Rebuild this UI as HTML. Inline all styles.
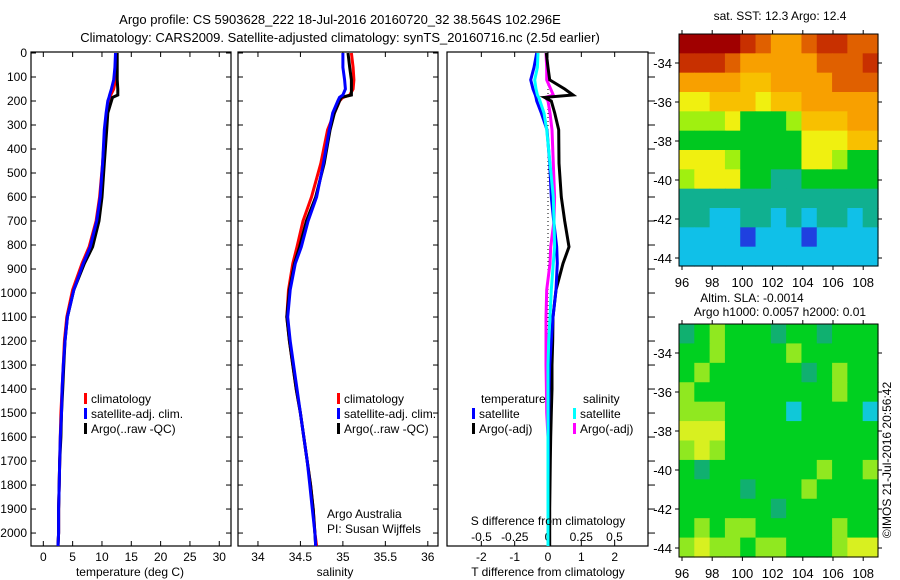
<!DOCTYPE html>
<html><head><meta charset="utf-8">
<style>
html,body{margin:0;padding:0;background:#fff;}
svg{display:block;font-family:"Liberation Sans",sans-serif;}
text{fill:#000;}
</style></head>
<body>
<svg id="fig" width="900" height="580" viewBox="0 0 900 580" xmlns="http://www.w3.org/2000/svg">
<text x="340" y="24" font-size="13" text-anchor="middle">Argo profile: CS 5903628_222 18-Jul-2016 20160720_32 38.564S 102.296E</text>
<text x="340" y="42" font-size="13" text-anchor="middle">Climatology: CARS2009. Satellite-adjusted climatology: synTS_20160716.nc (2.5d earlier)</text>
<g id="plots"></g>
</svg>
<script>
// ---- data ----
const depths = [0,60,112,150,175,185,200,250,320,460,600,700,808,877,987,1100,1200,1300,1400,1500,1600,1700,1800,1900,2000,2054];
const tempClim = [12.5,12.4,12.3,12.0,11.5,11.3,11.1,10.8,10.5,10.1,9.6,9.0,7.8,6.6,5.0,4.0,3.6,3.4,3.2,3.0,2.9,2.8,2.7,2.6,2.6,2.5];
const tempSat = [12.3,12.2,12.0,11.6,11.3,11.2,11.0,10.7,10.4,10.1,9.7,9.1,8.0,6.8,5.2,4.1,3.7,3.4,3.2,3.1,2.9,2.8,2.7,2.6,2.6,2.5];
const tempArgo = [12.6,12.6,12.6,12.7,12.7,11.8,11.6,11.0,10.8,10.4,10.0,9.5,8.4,7.0,5.2,4.1,3.7,3.5,3.3,3.1,3.0,2.8,2.7,2.6,2.6,2.5];
const salClim = [35.1,35.12,35.13,35.12,35.08,35.0,34.96,34.9,34.82,34.74,34.63,34.53,34.46,34.41,34.36,34.34,34.37,34.41,34.45,34.5,34.54,34.58,34.62,34.65,34.67,34.69];
const salSat = [35.0,35.0,35.02,35.03,35.0,34.96,34.94,34.88,34.84,34.77,34.69,34.59,34.51,34.44,34.38,34.35,34.38,34.42,34.46,34.5,34.54,34.58,34.61,34.64,34.67,34.68];
const salArgo = [35.06,35.08,35.1,35.1,35.1,34.98,34.96,34.9,34.85,34.78,34.68,34.57,34.49,34.43,34.37,34.34,34.37,34.41,34.45,34.5,34.54,34.58,34.62,34.65,34.67,34.68];
const dTsat = [-0.34,-0.42,-0.52,-0.45,-0.38,-0.36,-0.34,-0.2,-0.03,0.05,0.1,0.17,0.26,0.28,0.24,0.15,0.1,0.05,0.03,0.02,0.01,0.01,0.0,0.0,0.0,0.0];
const dTargo = [-0.05,0.0,0.05,0.5,0.75,-0.1,0.1,0.2,0.32,0.33,0.4,0.5,0.63,0.45,0.24,0.15,0.14,0.12,0.12,0.1,0.08,0.07,0.06,0.05,0.05,0.05];
const dSsat = [-0.075,-0.08,-0.1,-0.09,-0.08,-0.07,-0.06,-0.03,-0.01,0.015,0.04,0.045,0.05,0.04,0.025,0.015,0.005,0.0,0.0,0.0,0.0,0.0,0.0,0.0,0.0,0.0];
const dSargo = [-0.015,-0.01,-0.01,0.02,0.04,-0.02,0.0,0.015,0.03,0.04,0.05,0.045,0.02,0.015,-0.01,-0.015,-0.015,-0.015,-0.012,-0.01,0.0,0.0,0.0,0.0,0.0,0.0];
const depthTicks = [0,100,200,300,400,500,600,700,800,900,1000,1100,1200,1300,1400,1500,1600,1700,1800,1900,2000];
const tempTicks = [0,5,10,15,20,25,30];
const salTicks = [34,34.5,35,35.5,36];
const salTickLabels = ["34","34.5","35","35.5","36"];
const dTTicks = [-2,-1,0,1,2];
const dSTicks = [-0.5,-0.25,0,0.25,0.5];
const dSTickLabels = ["-0.5","-0.25","0","0.25","0.5"];
const lonTicks = [96,98,100,102,104,106,108];
const latTicks = [-34,-36,-38,-40,-42,-44];
// SST grid: rows lat -32.5..-44.5 (1 deg), cols lon 95.8..108.8 (1 deg); 0=blue .. 10=dark red
const sstGrid = [
 [10,10,10,10,9,8,7,7,8,9,9,8,8],
 [9,9,9,8,7,7,7,7,7,8,8,8,9],
 [7,7,7,7,6,6,7,7,7,7,8,8,8],
 [5,5,6,6,6,5,6,6,7,7,7,7,7],
 [4,4,4,5,3,3,3,4,6,6,6,7,7],
 [3,3,3,3,3,3,3,3,5,5,5,6,6],
 [5,5,5,4,3,3,3,3,5,5,4,3,3],
 [4,5,5,5,3,3,2,2,3,3,3,3,3],
 [2,2,2,2,2,2,2,2,2,2,2,2,2],
 [2,2,1,1,2,2,1,2,1,2,2,1,2],
 [1,1,1,1,0,1,1,1,0,1,1,1,1],
 [1,1,1,1,1,1,1,1,1,1,1,1,1]
];
// SLA grid: 0=cyan 1=teal 2=green 3=yellow-green 4=yellow
const slaGrid = [
 [1,2,3,2,2,2,1,2,2,1,2,2,2],
 [2,2,3,2,2,2,2,3,2,2,2,2,2],
 [2,3,2,2,2,2,2,2,1,2,3,2,2],
 [3,2,2,2,2,2,2,2,2,2,3,2,2],
 [3,3,3,2,2,2,2,0,2,2,2,2,0],
 [4,4,4,2,2,2,2,2,2,2,2,2,2],
 [3,4,3,2,2,2,2,2,2,2,2,2,2],
 [2,1,2,2,2,2,2,2,2,3,2,2,3],
 [2,2,2,2,1,2,2,2,3,2,2,2,2],
 [2,2,2,2,2,2,1,2,2,2,2,2,2],
 [2,3,2,3,3,2,2,2,2,2,3,2,2],
 [3,4,3,3,2,3,3,2,2,2,3,4,4]
];
const sstColors = ["#1f40e0","#10c0e8","#10b090","#00c820","#a0f010","#f0f010","#f8c000","#f8a000","#e06000","#c83000","#a00000"];
const slaColors = ["#10c8d8","#10b070","#00d020","#90e820","#d8f020"];

// ---- drawing ----
const NS="http://www.w3.org/2000/svg";
const root=document.getElementById('plots');
function mk(tag,attrs,parent){const e=document.createElementNS(NS,tag);for(const k in attrs)e.setAttribute(k,attrs[k]);(parent||root).appendChild(e);return e;}
const yTop=53, yBot=546, dMax=2054;
function yD(d){return yTop+d*(yBot-yTop)/dMax;}

function panel(x0,x1,vmin,vmax,name){
  const g=mk('g',{});
  
  
  const r=mk('rect',{x:x0,y:yTop-1,width:x1-x0,height:yBot-yTop+1,fill:'none',stroke:'#000','stroke-width':1.2},g);
  
  
  return {g,x:v=>x0+(v-vmin)*(x1-x0)/(vmax-vmin),x0,x1};
}
function line(p,vals,color,name){
  let pts='';
  for(let i=0;i<depths.length;i++){
    const y=yD(depths[i]);
    pts+=p.x(vals[i]).toFixed(1)+','+y.toFixed(1)+' ';
  }
  const l=mk('polyline',{points:pts,fill:'none',stroke:color,'stroke-width':3,'stroke-linejoin':'miter'},p.g);
  
  
}
function xTicks(p,ticks,labels,ty,name){
  ticks.forEach((t,i)=>{
    const x=p.x(t);
    mk('line',{x1:x,x2:x,y1:yBot,y2:yBot-5,stroke:'#000'},p.g);
    mk('line',{x1:x,x2:x,y1:yTop-1,y2:yTop+4,stroke:'#000'},p.g);
    const tx=mk('text',{x:x,y:ty,'font-size':12,'text-anchor':'middle'},p.g);
    tx.textContent=labels?labels[i]:String(t);
    
    
  });
}
function yTicksIn(p){
  depthTicks.forEach(d=>{const y=yD(d);
    mk('line',{x1:p.x0,x2:p.x0+5,y1:y,y2:y,stroke:'#000'},p.g);
    mk('line',{x1:p.x1,x2:p.x1-5,y1:y,y2:y,stroke:'#000'},p.g);});
}
function legend(g,x,y,items,name){
  items.forEach((it,i)=>{
    const yy=y+i*15;
    mk('rect',{x:x,y:yy-10,width:3,height:11,fill:it[0]},g);
    const t=mk('text',{x:x+7,y:yy,'font-size':12},g);
    t.textContent=it[1];
    
    
  });
}
function label(g,x,y,txt,name,anchor,size){
  const t=mk('text',{x:x,y:y,'font-size':size||12,'text-anchor':anchor||'middle'},g);
  t.textContent=txt;
  
  
  return t;
}

// depth axis labels
const yax=mk('g',{});


depthTicks.forEach(d=>{label(yax,27,yD(d)+4,String(d),'depth-tick-label','end');});

// panel 1 temperature
const p1=panel(31,231,-2.1,32,'temperature-panel');
yTicksIn(p1);
xTicks(p1,tempTicks,null,561,'temperature');
line(p1,tempClim,'#ff0000','temp-climatology-line');
line(p1,tempArgo,'#000000','temp-argo-line');
line(p1,tempSat,'#0000ff','temp-satellite-line');
legend(p1.g,84,403,[['#ff0000','climatology'],['#0000ff','satellite-adj. clim.'],['#000','Argo(..raw -QC)']],'temp-legend');
label(p1.g,130,576,'temperature (deg C)','temperature-axis-title');

// panel 2 salinity
const p2=panel(238,438,33.765,36.12,'salinity-panel');
yTicksIn(p2);
xTicks(p2,salTicks,salTickLabels,561,'salinity');
line(p2,salClim,'#ff0000','sal-climatology-line');
line(p2,salArgo,'#000000','sal-argo-line');
line(p2,salSat,'#0000ff','sal-satellite-line');
legend(p2.g,337,403,[['#ff0000','climatology'],['#0000ff','satellite-adj. clim.'],['#000','Argo(..raw -QC)']],'sal-legend');
label(p2.g,327,518,'Argo Australia','credit-line-1','start');
label(p2.g,327,533,'PI: Susan Wijffels','credit-line-2','start');
label(p2.g,335,576,'salinity','salinity-axis-title');

// panel 3 differences
const p3=panel(447,648,-3.03,3.0,'difference-panel');
const pS={g:p3.g,x:v=>548+v*133,x0:447,x1:648};
depthTicks.forEach(d=>{const y=yD(d);mk('line',{x1:648,x2:655,y1:y,y2:y,stroke:'#000'},p3.g);});
xTicks(p3,dTTicks,null,561,'t-diff');
dSTicks.forEach((t,i)=>{label(p3.g,pS.x(t),541,dSTickLabels[i],'s-diff-tick-label');});
mk('line',{x1:p3.x(0),x2:p3.x(0),y1:yTop,y2:yBot,stroke:'#000','stroke-dasharray':'1,3'},p3.g);
line(pS,dSargo,'#ff00ff','s-diff-argo-line');
line(p3,dTargo,'#000000','t-diff-argo-line');
line(p3,dTsat,'#0000ff','t-diff-satellite-line');
line(pS,dSsat,'#00ffff','s-diff-satellite-line');
label(p3.g,481,403,'temperature','diff-legend-temp-header','start');
label(p3.g,583,403,'salinity','diff-legend-sal-header','start');
legend(p3.g,472,418,[['#0000ff','satellite'],['#000','Argo(-adj)']],'t-diff-legend');
legend(p3.g,573,418,[['#00ffff','satellite'],['#ff00ff','Argo(-adj)']],'s-diff-legend');
label(p3.g,548,525,'S difference from climatology','s-diff-axis-title');
label(p3.g,548,576,'T difference from climatology','t-diff-axis-title');

// maps
function map(y0,y1,grid,colors,name,latAt34){
  const x0=679,x1=878;
  const g=mk('g',{});
  
  
  const lonX=l=>682+(l-96)*15.1;
  const latY=l=>latAt34+(-34-l)*19.5;
  const rows=grid.length, cols=grid[0].length;
  const cw=(x1-x0)/cols, ch=(y1-y0)/rows;
  for(let r=0;r<rows;r++)for(let c=0;c<cols;c++){
    const cell=mk('rect',{x:(x0+c*cw).toFixed(2),y:(y0+r*ch).toFixed(2),width:(cw+0.6).toFixed(2),height:(ch+0.6).toFixed(2),fill:colors[grid[r][c]]},g);
    
    
  }
  mk('rect',{x:x0,y:y0,width:x1-x0,height:y1-y0,fill:'none',stroke:'#000'},g);
  lonTicks.forEach(l=>{const x=lonX(l);
    mk('line',{x1:x,x2:x,y1:y1,y2:y1+4,stroke:'#000'},g);
    mk('line',{x1:x,x2:x,y1:y0,y2:y0-4,stroke:'#000'},g);
    label(g,x,y1+21,String(l),name+'-lon-label','middle',13);});
  latTicks.forEach(l=>{const y=latY(l);
    mk('line',{x1:x0,x2:x0-4,y1:y,y2:y,stroke:'#000'},g);
    mk('line',{x1:x1,x2:x1+4,y1:y,y2:y,stroke:'#000'},g);
    label(g,672,y+5,String(l),name+'-lat-label','end',13);});
  return g;
}
const m1=map(34,266,sstGrid,sstColors,'sst-map',63);
label(m1,780,20,'sat. SST: 12.3 Argo: 12.4','sst-map-title','middle',12);
const m2=map(324,557,slaGrid,slaColors,'sla-map',353);
label(m2,752,302,'Altim. SLA: -0.0014','sla-map-title-1','middle',12);
label(m2,780,316,'Argo h1000: 0.0057 h2000: 0.01','sla-map-title-2','middle',12);
const cr=label(m2,0,0,'©IMOS 21-Jul-2016 20:56:42','imos-credit','middle',12);
cr.setAttribute('transform','translate(891,460) rotate(-90)');
</script>
</body></html>
